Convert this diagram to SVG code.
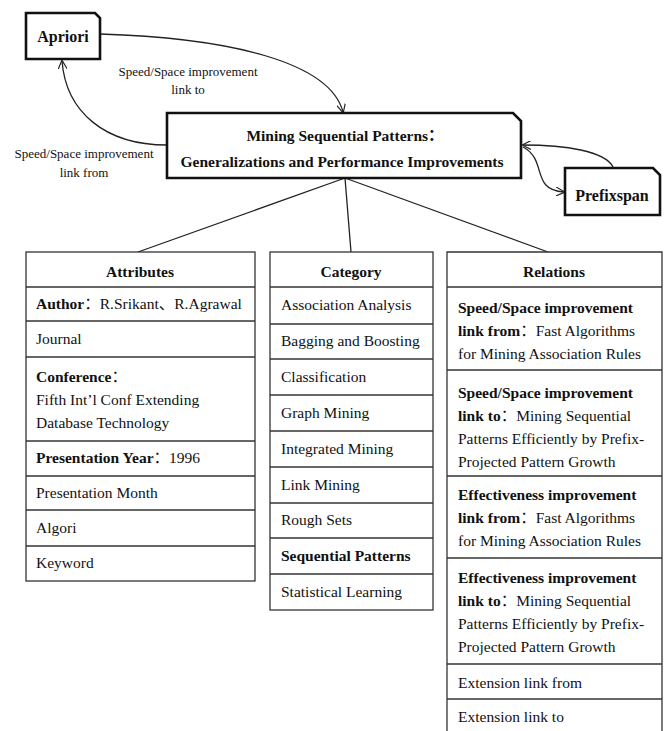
<svg xmlns="http://www.w3.org/2000/svg" width="668" height="731" viewBox="0 0 668 731" font-family="'Liberation Serif', 'Times New Roman', 'DejaVu Serif', serif">
  <style>
    text { font-family: 'Liberation Serif', 'Times New Roman', 'DejaVu Serif', serif; fill: #111; }
    .cjk { font-family: 'Liberation Serif', 'Noto Sans CJK SC', serif; }
    .node { fill: #fff; stroke: #111; stroke-width: 2.6; stroke-linejoin: miter; }
    .title { font-size: 15.5px; font-weight: bold; text-anchor: middle; }
    .nodelbl { font-size: 16px; font-weight: bold; text-anchor: middle; }
    .edge { fill: none; stroke: #222; stroke-width: 1.3; }
    .elbl { font-size: 13px; text-anchor: middle; }
    .tbl { fill: #fff; stroke: #333; stroke-width: 1.3; }
    .sep { stroke: #333; stroke-width: 1.3; }
    .hdr { font-size: 15.5px; font-weight: bold; text-anchor: middle; }
    .cell { font-size: 15.5px; }
    .b { font-weight: bold; }
  </style>
  <defs>
    <marker id="open" viewBox="0 0 10 10" refX="9" refY="5" markerWidth="9" markerHeight="9" markerUnits="userSpaceOnUse" orient="auto">
      <path d="M0,0 L10,5 L0,10" fill="none" stroke="#222" stroke-width="1.3"/>
    </marker>
  </defs>

  <rect width="668" height="731" fill="#fff"/>

  <!-- connectors -->
  <g id="connectors">
    <path class="edge" d="M100,34 C230,38 330,62 343,112" marker-end="url(#open)"/>
    <path class="edge" d="M167,145 C105,145 66,112 62,61" marker-end="url(#open)"/>
    <path class="edge" d="M613,167 C605,151 565,145 523,145" marker-end="url(#open)"/>
    <path class="edge" d="M523,147 C548,160 530,190 564,192" marker-end="url(#open)"/>
    <line class="edge" x1="345" y1="178" x2="138" y2="252"/>
    <line class="edge" x1="345" y1="178" x2="351" y2="252"/>
    <line class="edge" x1="345" y1="178" x2="548" y2="252"/>
    <text class="elbl" x="188" y="76">Speed/Space improvement</text>
    <text class="elbl" x="188" y="94">link to</text>
    <text class="elbl" x="84" y="158">Speed/Space improvement</text>
    <text class="elbl" x="84" y="177">link from</text>
  </g>

  <!-- Apriori -->
  <g id="apriori">
    <polygon class="node" points="26,13 95,13 100,18 100,59 26,59"/>
    <text class="nodelbl" x="63" y="42">Apriori</text>
  </g>

  <!-- main paper -->
  <g id="main">
    <polygon class="node" points="167,113 513,113 521,121 521,178 167,178"/>
    <text class="title" x="345" y="141">Mining Sequential Patterns<tspan class="cjk">：</tspan></text>
    <text class="title" x="342" y="167">Generalizations and Performance Improvements</text>
  </g>

  <!-- Prefixspan -->
  <g id="prefixspan">
    <polygon class="node" points="565,168 653,168 660,175 660,215 565,215"/>
    <text class="nodelbl" x="612" y="201">Prefixspan</text>
  </g>

  <!-- Attributes table -->
  <g id="attributes">
    <rect class="tbl" x="26" y="252" width="229" height="329"/>
    <line class="sep" x1="26" y1="287" x2="255" y2="287"/>
    <line class="sep" x1="26" y1="321" x2="255" y2="321"/>
    <line class="sep" x1="26" y1="357" x2="255" y2="357"/>
    <line class="sep" x1="26" y1="441" x2="255" y2="441"/>
    <line class="sep" x1="26" y1="476" x2="255" y2="476"/>
    <line class="sep" x1="26" y1="510" x2="255" y2="510"/>
    <line class="sep" x1="26" y1="546" x2="255" y2="546"/>
    <text class="hdr" x="140" y="277">Attributes</text>
    <text class="cell" x="36" y="309"><tspan class="b">Author</tspan><tspan class="cjk">：</tspan>R.Srikant<tspan class="cjk">、</tspan>R.Agrawal</text>
    <text class="cell" x="36" y="344">Journal</text>
    <text class="cell" x="36" y="382"><tspan class="b">Conference</tspan><tspan class="cjk">：</tspan></text>
    <text class="cell" x="36" y="405">Fifth Int’l Conf Extending</text>
    <text class="cell" x="36" y="428">Database Technology</text>
    <text class="cell" x="36" y="463"><tspan class="b">Presentation Year</tspan><tspan class="cjk">：</tspan>1996</text>
    <text class="cell" x="36" y="498">Presentation Month</text>
    <text class="cell" x="36" y="533">Algori</text>
    <text class="cell" x="36" y="568">Keyword</text>
  </g>

  <!-- Category table -->
  <g id="category">
    <rect class="tbl" x="270" y="252" width="163" height="358"/>
    <line class="sep" x1="270" y1="287" x2="433" y2="287"/>
    <line class="sep" x1="270" y1="324" x2="433" y2="324"/>
    <line class="sep" x1="270" y1="359" x2="433" y2="359"/>
    <line class="sep" x1="270" y1="395" x2="433" y2="395"/>
    <line class="sep" x1="270" y1="431" x2="433" y2="431"/>
    <line class="sep" x1="270" y1="467" x2="433" y2="467"/>
    <line class="sep" x1="270" y1="503" x2="433" y2="503"/>
    <line class="sep" x1="270" y1="538" x2="433" y2="538"/>
    <line class="sep" x1="270" y1="574" x2="433" y2="574"/>
    <text class="hdr" x="351" y="277">Category</text>
    <text class="cell" x="281" y="310">Association Analysis</text>
    <text class="cell" x="281" y="346">Bagging and Boosting</text>
    <text class="cell" x="281" y="382">Classification</text>
    <text class="cell" x="281" y="418">Graph Mining</text>
    <text class="cell" x="281" y="454">Integrated Mining</text>
    <text class="cell" x="281" y="490">Link Mining</text>
    <text class="cell" x="281" y="525">Rough Sets</text>
    <text class="cell b" x="281" y="561">Sequential Patterns</text>
    <text class="cell" x="281" y="597">Statistical Learning</text>
  </g>

  <!-- Relations table (runs past the bottom edge) -->
  <g id="relations">
    <path class="tbl" d="M447,733 L447,252 L662,252 L662,733"/>
    <line class="sep" x1="447" y1="287" x2="662" y2="287"/>
    <line class="sep" x1="447" y1="370" x2="662" y2="370"/>
    <line class="sep" x1="447" y1="476" x2="662" y2="476"/>
    <line class="sep" x1="447" y1="558" x2="662" y2="558"/>
    <line class="sep" x1="447" y1="664" x2="662" y2="664"/>
    <line class="sep" x1="447" y1="699" x2="662" y2="699"/>
    <text class="hdr" x="554" y="277">Relations</text>
    <text class="cell b" x="458" y="313">Speed/Space improvement</text>
    <text class="cell" x="458" y="336"><tspan class="b">link from</tspan><tspan class="cjk">：</tspan>Fast Algorithms</text>
    <text class="cell" x="458" y="359">for Mining Association Rules</text>
    <text class="cell b" x="458" y="398">Speed/Space improvement</text>
    <text class="cell" x="458" y="421"><tspan class="b">link to</tspan><tspan class="cjk">：</tspan>Mining Sequential</text>
    <text class="cell" x="458" y="444">Patterns Efficiently by Prefix-</text>
    <text class="cell" x="458" y="467">Projected Pattern Growth</text>
    <text class="cell b" x="458" y="500">Effectiveness improvement</text>
    <text class="cell" x="458" y="523"><tspan class="b">link from</tspan><tspan class="cjk">：</tspan>Fast Algorithms</text>
    <text class="cell" x="458" y="546">for Mining Association Rules</text>
    <text class="cell b" x="458" y="583">Effectiveness improvement</text>
    <text class="cell" x="458" y="606"><tspan class="b">link to</tspan><tspan class="cjk">：</tspan>Mining Sequential</text>
    <text class="cell" x="458" y="629">Patterns Efficiently by Prefix-</text>
    <text class="cell" x="458" y="652">Projected Pattern Growth</text>
    <text class="cell" x="458" y="688">Extension link from</text>
    <text class="cell" x="458" y="722">Extension link to</text>
  </g>
</svg>
